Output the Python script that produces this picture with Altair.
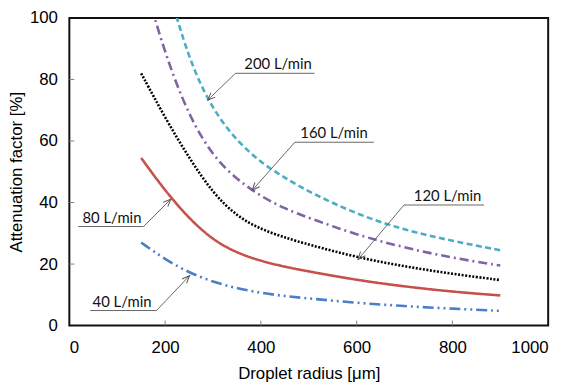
import math
import altair as alt
import pandas as pd

# ---- data ----
radius = [150, 200, 250, 300, 350, 400, 450, 500, 600, 700, 800, 900]
f40 = [27.0, 21.5, 17.2, 14.2, 12.1, 10.6, 9.6, 8.8, 7.4, 6.3, 5.5, 4.8]
f80 = [54.5, 43.8, 34.8, 27.8, 23.6, 21.0, 19.1, 17.6, 14.8, 12.7, 11.0, 9.8]
f120 = [82.0, 67.5, 54.5, 43.0, 35.5, 31.3, 28.6, 26.3, 22.2, 19.2, 16.8, 14.8]
f160 = [115.0, 88.0, 68.0, 55.0, 47.5, 42.0, 38.0, 35.0, 29.5, 25.3, 22.0, 19.5]
f200 = [145.0, 113.0, 86.0, 70.0, 60.0, 53.0, 48.0, 43.5, 36.2, 31.0, 27.5, 24.5]

series_names = ["40 L/min", "80 L/min", "120 L/min", "160 L/min", "200 L/min"]
series_vals = [f40, f80, f120, f160, f200]
series_colors = ["#4A7FC9", "#C8504A", "#000000", "#8064A2", "#4BACC6"]
series_dash = [[11, 4, 2, 4, 2, 4], [1, 0], [2, 1.6], [9, 4, 2, 4], [6, 3.5]]

x_ticks = [0, 200, 400, 600, 800, 1000]
y_ticks = [0, 20, 40, 60, 80, 100]

# annotation labels (data coordinates)
ann_label = ["200 L/min", "160 L/min", "120 L/min", "80 L/min", "40 L/min"]
ann_text_x = [436, 553, 790, 89, 110]
ann_text_y = [83.5, 60.9, 40.6, 33.4, 6.1]
ann_line_x1 = [347, 471, 699, 18.6, 43.4]
ann_line_x2 = [512, 636, 866, 155, 182]
ann_line_y = [82.0, 59.6, 39.2, 32.2, 4.9]
ann_from_x = [347, 471, 699, 155, 182]
ann_tip_x = [289, 382, 603, 212, 251]
ann_tip_y = [73.3, 44.0, 21.5, 41.1, 16.2]

W, H = 484, 311
sx, sy = W / 1000.0, H / 100.0

rows = []
for name, vals in zip(series_names, series_vals):
    for r, v in zip(radius, vals):
        rows.append({"flow": name, "r": r, "f": v})
df = pd.DataFrame(rows)

ann = pd.DataFrame({
    "label": ann_label,
    "tx": ann_text_x, "ty": ann_text_y,
    "ux1": ann_line_x1, "ux2": ann_line_x2, "uy": ann_line_y,
    "fx": ann_from_x, "fy": ann_line_y,
    "px": ann_tip_x, "py": ann_tip_y,
})
# rotation of the arrow head (clockwise degrees, head drawn pointing up)
ann["ang"] = [
    math.degrees(math.atan2((px - fx) * sx, (py - fy) * sy)) % 360
    for fx, fy, px, py in zip(ann["fx"], ann["fy"], ann["px"], ann["py"])
]

x_scale = alt.Scale(domain=[0, 1000], nice=False)
y_scale = alt.Scale(domain=[0, 100], nice=False)

x_axis = alt.Axis(title="Droplet radius [μm]", values=x_ticks, format="d", ticks=False,
                  tickSize=0, domain=False, grid=False, labelPadding=14,
                  titleBaseline="alphabetic", titleY=53)
y_axis = alt.Axis(title="Attenuation factor [%]", values=y_ticks, format="d", ticks=False,
                  tickSize=0, domain=False, grid=False, labelPadding=12,
                  titleBaseline="middle", titleX=-53)

layers = []
for name, col, dash in zip(series_names, series_colors, series_dash):
    layers.append(
        alt.Chart(df[df.flow == name]).mark_line(
            color=col, strokeDash=dash, strokeWidth=2.6, clip=True,
            interpolate="basis"
        ).encode(
            x=alt.X("r:Q", scale=x_scale, axis=x_axis),
            y=alt.Y("f:Q", scale=y_scale, axis=y_axis),
        )
    )

tick_df_x = pd.DataFrame({"t": x_ticks[1:-1]})
tick_df_y = pd.DataFrame({"t": y_ticks[1:-1]})
xt = alt.Chart(tick_df_x).mark_rule(color="#808080", strokeWidth=1).encode(
    x=alt.X("t:Q", scale=x_scale), y=alt.value(H), y2=alt.value(H - 5))
yt = alt.Chart(tick_df_y).mark_rule(color="#808080", strokeWidth=1).encode(
    y=alt.Y("t:Q", scale=y_scale), x=alt.value(0), x2=alt.value(5))

base = alt.Chart(ann)
under = base.mark_rule(color="#666666", strokeWidth=1).encode(
    x=alt.X("ux1:Q", scale=x_scale), x2="ux2:Q", y=alt.Y("uy:Q", scale=y_scale))
leader = base.mark_rule(color="#666666", strokeWidth=1).encode(
    x=alt.X("fx:Q", scale=x_scale), x2="px:Q",
    y=alt.Y("fy:Q", scale=y_scale), y2="py:Q")
heads = base.mark_point(
    shape="M -0.42 1 L 0 0 L 0.42 1", filled=False, color="#555555",
    strokeWidth=1, size=230, opacity=1
).encode(
    x=alt.X("px:Q", scale=x_scale), y=alt.Y("py:Q", scale=y_scale),
    angle=alt.Angle("ang:Q", scale=None))
texts = base.mark_text(font="Lato", fontSize=15, color="#111111",
                       baseline="alphabetic", align="center").encode(
    x=alt.X("tx:Q", scale=x_scale), y=alt.Y("ty:Q", scale=y_scale), text="label:N")

chart = alt.layer(*layers, xt, yt, under, leader, heads, texts).properties(
    width=W, height=H,
    autosize=alt.AutoSizeParams(type="none"),
    padding={"left": 62, "top": 8, "right": 16, "bottom": 57},
).configure_view(
    stroke="#111111", strokeWidth=2
).configure_axis(
    labelFont="Liberation Sans", labelFontSize=17, labelColor="#000000",
    titleFont="Liberation Sans", titleFontSize=17, titleColor="#000000",
    titleFontWeight="normal",
)

chart.save("out.html", embed_options={"renderer": "svg", "actions": False})
